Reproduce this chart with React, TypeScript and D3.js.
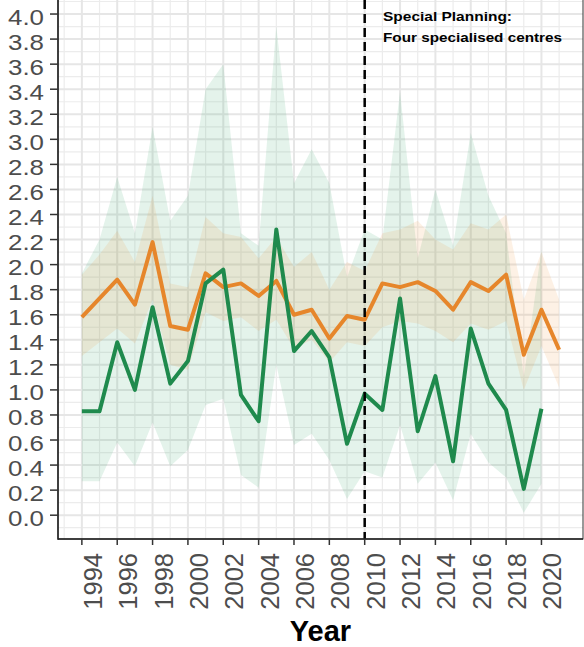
import React from "react";
import { area, line, range, scaleLinear } from "d3";

const WIDTH = 584;
const HEIGHT = 647;
const PANEL_LEFT = 58;
const PANEL_RIGHT = 583;
const PANEL_TOP = 0;
const PANEL_BOTTOM = 539;
const LINE_WIDTH = 4;
const FONT = "'Liberation Sans', Arial, sans-serif";

const ORANGE = "#e6862b";
const GREEN = "#1f8a4d";

// data
const orangeYears = [
    1994, 1995, 1996, 1997, 1998, 1999, 2000, 2001, 2002, 2003, 2004, 2005, 2006, 2007,
    2008, 2009, 2010, 2011, 2012, 2013, 2014, 2015, 2016, 2017, 2018, 2019, 2020, 2021,
];
const orangeMean = [
    1.58, 1.73, 1.88, 1.68, 2.18, 1.51, 1.48, 1.93, 1.82, 1.85, 1.75, 1.87, 1.6, 1.64,
    1.41, 1.59, 1.56, 1.85, 1.82, 1.86, 1.79, 1.64, 1.86, 1.79, 1.92, 1.28, 1.64, 1.32,
];
const orangeLower = [
    1.27, 1.38, 1.49, 1.37, 1.72, 1.2, 1.16, 1.62, 1.55, 1.58, 1.47, 1.56, 1.33, 1.4,
    1.22, 1.38, 1.35, 1.5, 1.55, 1.53, 1.47, 1.38, 1.53, 1.48, 1.55, 1.0, 1.35, 1.02,
];
const orangeUpper = [
    1.92, 2.08, 2.27, 2.02, 2.55, 1.85, 1.82, 2.38, 2.25, 2.22, 2.05, 2.22, 1.98, 2.1,
    1.8, 2.02, 1.95, 2.25, 2.28, 2.35, 2.2, 2.12, 2.33, 2.28, 2.4, 1.72, 2.1, 1.72,
];

const greenYears = [
    1994, 1995, 1996, 1997, 1998, 1999, 2000, 2001, 2002, 2003, 2004, 2005, 2006, 2007,
    2008, 2009, 2010, 2011, 2012, 2013, 2014, 2015, 2016, 2017, 2018, 2019, 2020,
];
const greenMean = [
    0.83, 0.83, 1.38, 1.0, 1.66, 1.05, 1.23, 1.85, 1.96, 0.96, 0.75, 2.28, 1.31, 1.47,
    1.26, 0.57, 0.97, 0.84, 1.73, 0.67, 1.11, 0.43, 1.49, 1.05, 0.84, 0.21, 0.85,
];
const greenLower = [
    0.27, 0.27, 0.58, 0.39, 0.74, 0.39, 0.52, 0.88, 0.93, 0.32, 0.22, 1.2, 0.56, 0.65,
    0.44, 0.13, 0.35, 0.3, 0.72, 0.25, 0.42, 0.12, 0.65, 0.42, 0.3, 0.02, 0.25,
];
const greenUpper = [
    1.93, 2.2, 2.7, 2.25, 3.1, 2.35, 2.55, 3.4, 3.6, 2.25, 2.15, 3.9, 2.65, 2.92,
    2.65, 1.9, 2.28, 2.2, 3.38, 2.05, 2.6, 2.15, 3.05, 2.55, 2.25, 1.1, 2.12,
];

const xTicks = [1994, 1996, 1998, 2000, 2002, 2004, 2006, 2008, 2010, 2012, 2014, 2016, 2018, 2020];
const yTicks = [0, 0.2, 0.4, 0.6, 0.8, 1.0, 1.2, 1.4, 1.6, 1.8, 2.0, 2.2, 2.4, 2.6, 2.8, 3.0, 3.2, 3.4, 3.6, 3.8, 4.0];
const policyYear = 2010;
const noteLines = ["Special Planning:", "Four specialised centres"];

type Point = { year: number; mean: number; lower: number; upper: number };

const toPoints = (years: number[], mean: number[], lower: number[], upper: number[]): Point[] =>
    years.map((year, i) => ({ year, mean: mean[i], lower: lower[i], upper: upper[i] }));

const orangeData = toPoints(orangeYears, orangeMean, orangeLower, orangeUpper);
const greenData = toPoints(greenYears, greenMean, greenLower, greenUpper);

const x = scaleLinear().domain([1992.65, 2022.35]).range([PANEL_LEFT, PANEL_RIGHT]);
const y = scaleLinear().domain([-0.19, 4.112]).range([PANEL_BOTTOM, PANEL_TOP]);

const ribbon = area<Point>()
    .x(d => x(d.year))
    .y0(d => y(d.lower))
    .y1(d => y(d.upper));
const meanLine = line<Point>()
    .x(d => x(d.year))
    .y(d => y(d.mean));

const minorX = range(1993, 2022, 2);
const minorY = range(-0.1, 4.15, 0.2);

export default function App() {
    return (
        <svg
            width={WIDTH}
            height={HEIGHT}
            style={{ position: "absolute", left: 0, top: 0, display: "block", background: "#fff" }}
        >
            <rect x={PANEL_LEFT} y={PANEL_TOP} width={PANEL_RIGHT - PANEL_LEFT} height={PANEL_BOTTOM - PANEL_TOP} fill="#fff" />

            {/* grid */}
            <g stroke="#ececec" strokeWidth={1.2}>
                {minorX.map(v => (
                    <line key={"mx" + v} x1={x(v)} x2={x(v)} y1={PANEL_TOP} y2={PANEL_BOTTOM} />
                ))}
                {minorY.map(v => (
                    <line key={"my" + v} x1={PANEL_LEFT} x2={PANEL_RIGHT} y1={y(v)} y2={y(v)} />
                ))}
            </g>
            <g stroke="#e6e6e6" strokeWidth={2}>
                {xTicks.map(v => (
                    <line key={"gx" + v} x1={x(v)} x2={x(v)} y1={PANEL_TOP} y2={PANEL_BOTTOM} />
                ))}
                {yTicks.map(v => (
                    <line key={"gy" + v} x1={PANEL_LEFT} x2={PANEL_RIGHT} y1={y(v)} y2={y(v)} />
                ))}
            </g>

            {/* ribbons and lines */}
            <path d={ribbon(greenData) || ""} fill="#1f9a5a" fillOpacity={0.12} />
            <path d={ribbon(orangeData) || ""} fill="#f08c28" fillOpacity={0.12} />
            <path d={meanLine(orangeData) || ""} fill="none" stroke={ORANGE} strokeWidth={LINE_WIDTH} strokeLinejoin="round" />
            <path d={meanLine(greenData) || ""} fill="none" stroke={GREEN} strokeWidth={LINE_WIDTH} strokeLinejoin="round" />

            <line
                x1={x(policyYear)}
                x2={x(policyYear)}
                y1={PANEL_TOP}
                y2={PANEL_BOTTOM}
                stroke="#000"
                strokeWidth={2.5}
                strokeDasharray="9,5"
            />
            <g fontFamily={FONT} fontWeight="bold" fontSize={13.5} fill="#000">
                <text x={383} y={21} textLength={129} lengthAdjust="spacingAndGlyphs">{noteLines[0]}</text>
                <text x={383} y={42} textLength={179} lengthAdjust="spacingAndGlyphs">{noteLines[1]}</text>
            </g>

            {/* frame */}
            <rect
                x={PANEL_LEFT}
                y={PANEL_TOP - 2}
                width={PANEL_RIGHT - PANEL_LEFT}
                height={PANEL_BOTTOM - PANEL_TOP + 2}
                fill="none"
                stroke="#333"
                strokeWidth={1}
            />
            <line x1={PANEL_LEFT} x2={PANEL_LEFT} y1={PANEL_TOP} y2={PANEL_BOTTOM + 0.75} stroke="#222" strokeWidth={1.5} />
            <line x1={PANEL_LEFT} x2={PANEL_RIGHT} y1={PANEL_BOTTOM} y2={PANEL_BOTTOM} stroke="#222" strokeWidth={1.5} />

            {/* y axis */}
            <g fontFamily={FONT} fontSize={21.5} fill="#4d4d4d" textAnchor="end">
                {yTicks.map(v => (
                    <g key={"yt" + v}>
                        <line x1={50} x2={PANEL_LEFT} y1={y(v)} y2={y(v)} stroke="#333" strokeWidth={1.5} />
                        <text x={44} y={y(v) + 10.5} textLength={36} lengthAdjust="spacingAndGlyphs">
                            {v.toFixed(1)}
                        </text>
                    </g>
                ))}
            </g>

            {/* x axis */}
            <g fontFamily={FONT} fontSize={25.5} fill="#4d4d4d" textAnchor="end">
                {xTicks.map(v => (
                    <g key={"xt" + v}>
                        <line x1={x(v)} x2={x(v)} y1={PANEL_BOTTOM} y2={PANEL_BOTTOM + 6} stroke="#333" strokeWidth={1.5} />
                        <text transform={`translate(${x(v) + 20},553) rotate(-90)`}>{v}</text>
                    </g>
                ))}
            </g>
            <text
                x={(PANEL_LEFT + PANEL_RIGHT) / 2}
                y={640.5}
                textAnchor="middle"
                fontFamily={FONT}
                fontWeight="bold"
                fontSize={29}
                fill="#000"
            >
                Year
            </text>
        </svg>
    );
}
